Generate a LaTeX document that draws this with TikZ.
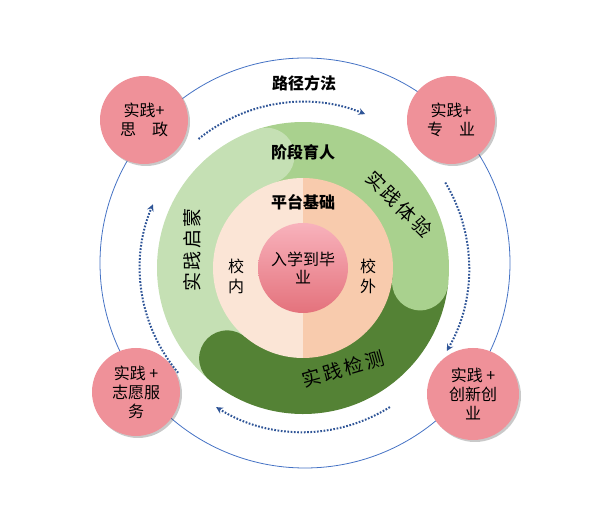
\documentclass[tikz,border=0pt]{standalone}
\usepackage{fontspec}
\setmainfont{Noto Sans CJK SC}
\usetikzlibrary{arrows, shadows}
\definecolor{ringblue}{HTML}{4472C4}
\definecolor{flowblue}{HTML}{2F5597}
\definecolor{pinkout}{RGB}{239,145,153}
\definecolor{coretop}{RGB}{248,178,188}
\definecolor{corebot}{RGB}{228,114,124}
\definecolor{peachL}{HTML}{FBE5D6}
\definecolor{peachR}{HTML}{F8CBAD}
\definecolor{greenL}{HTML}{C5E0B4}
\definecolor{greenM}{HTML}{A9D18E}
\definecolor{greenD}{HTML}{548235}
\tikzstyle{practice} = [circle, minimum size=88pt, inner sep=0pt, fill=pinkout, align=center, font=\fontsize{16}{19}\selectfont, drop shadow={shadow xshift=2pt, shadow yshift=-2pt, opacity=0.3, fill=black!70}]
\tikzstyle{flow} = [line width=2pt, dash pattern=on 1.7pt off 1.6pt, draw=flowblue, ->, >=stealth]
\tikzstyle{heading} = [font=\fontsize{16}{19}\selectfont\bfseries]
\tikzstyle{plain} = [align=center, font=\fontsize{16}{20}\selectfont]
\tikzstyle{ringtext} = [inner sep=1pt, font=\fontsize{19}{22}\selectfont\addfontfeature{LetterSpace=14}]

\begin{document}
\begin{tikzpicture}[x=1pt, y=1pt]
\useasboundingbox (0,0) rectangle (600,527);
\coordinate (C) at (303,259);
\coordinate (B) at (305,264);

% outer route circle
\draw[ringblue, line width=0.8pt] (B) circle[radius=205];

% stage ring
\fill[greenL] (C) -- +(230:146) arc[start angle=230, end angle=108, radius=146] -- cycle;
\fill[greenM] (C) -- +(108:146) arc[start angle=108, end angle=-6, radius=146] -- cycle;
\fill[greenD] (C) -- +(-6:146) arc[start angle=-6, end angle=-130, radius=146] -- cycle;
\fill[greenL] (C) ++(108:118) circle[radius=28];
\fill[greenM] (C) ++(-7:118) circle[radius=28];
\fill[greenD] (C) ++(230:118) circle[radius=28];

% platform disc
\fill[peachL] (C) -- +(90:90) arc[start angle=90, end angle=270, radius=90] -- cycle;
\fill[peachR] (C) -- +(90:90) arc[start angle=90, end angle=-90, radius=90] -- cycle;
\node[circle, minimum size=90pt, inner sep=0pt, top color=coretop, bottom color=corebot, align=center, font=\fontsize{16}{18}\selectfont] (core) at (C) {入学到毕\\业};

% labels
\node[heading] (route) at (304,444) {路径方法};
\node[heading] (stage) at (303,375) {阶段育人};
\node[heading] (platform) at (303,325) {平台基础};
\node[plain] (inside) at (236,251) {校\\内};
\node[plain] (outside) at (368,251) {校\\外};
\node[ringtext, rotate=90] (enlighten) at (192,277) {实践启蒙};
\node[ringtext, rotate=-45] (experience) at (399,323) {实践体验};
\node[ringtext, rotate=16] (check) at (343,158) {实践检测};

% practice circles
\node[practice] (politics) at (144,407) {实践+\\思\quad 政};
\node[practice] (major) at (451,407) {实践+\\专\quad 业};
\node[practice] (volunteer) at (136,135) {实践 +\\志愿服\\务};
\node[practice, minimum size=92pt] (innovate) at (473,133) {实践 +\\创新创\\业};

% dotted flow arrows
\draw[flow] (C) ++(129:166) arc[start angle=129, end angle=68, radius=166];
\draw[flow] (C) ++(31:166) arc[start angle=31, end angle=-30, radius=166];
\draw[flow] (C) ++(-58:164) arc[start angle=-58, end angle=-122, radius=164];
\draw[flow] (C) ++(220:163) arc[start angle=220, end angle=157, radius=163];

\end{tikzpicture}
\end{document}
